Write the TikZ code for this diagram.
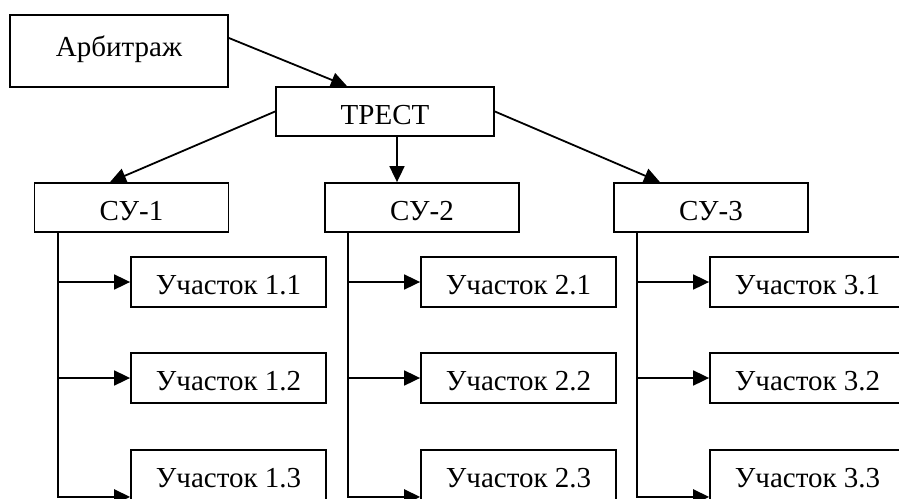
\documentclass[tikz,border=0pt]{standalone}
\usepackage{fontspec}
\setmainfont{Liberation Serif}
\usetikzlibrary{arrows.meta,calc}

\begin{document}
\begin{tikzpicture}[x=1pt,y=-1pt,
  box/.style={draw,line width=1.8pt,rectangle,inner sep=0pt,
    font=\fontsize{29}{31}\selectfont,text height=27pt,text depth=2pt,
    minimum height=49pt},
  topbox/.style={box,minimum width=194pt},
  unitbox/.style={box,minimum width=195pt,minimum height=50pt},
  link/.style={line width=1.8pt,-{Triangle[length=16pt,width=15pt]}}]
\useasboundingbox (0,0) rectangle (899,498);
\clip (0,0) rectangle (899,498);

% management levels
\node[box,minimum width=218pt,minimum height=72pt,text height=20pt,text depth=10pt] (arb) at (119,51) {Арбитраж};
\node[box,minimum width=218pt] (trest) at (385,111.5) {ТРЕСТ};
\node[topbox] (su1) at (131.5,207.5) {СУ-1};
\node[topbox] (su2) at (422,207.5) {СУ-2};
\node[topbox] (su3) at (711,207.5) {СУ-3};

% sites
\foreach \c/\x in {1/228.5,2/518.5,3/807.5}{
  \node[unitbox] (u\c1) at (\x,282) {Участок \c.1};
  \node[unitbox] (u\c2) at (\x,378) {Участок \c.2};
  \node[unitbox] (u\c3) at (\x,475) {Участок \c.3};
}

% top links
\draw[link] ([yshift=13pt]arb.east) -- ([xshift=-38pt]trest.north);
\draw[link] (trest.west) -- ([xshift=-21.5pt]su1.north);
\draw[link] ([xshift=12pt]trest.south) -- ([xshift=12pt]trest.south |- su2.north);
\draw[link] (trest.east) -- ([xshift=-51pt]su3.north);

% branches to sites
\foreach \c in {1,2,3}{
  \coordinate (s\c) at ([xshift=24pt]su\c.south west);
  \draw[link] (s\c) |- (u\c1.west);
  \draw[link] (s\c) |- (u\c2.west);
  \draw[link] (s\c) |- ([yshift=4pt]u\c3.south west);
}
\end{tikzpicture}
\end{document}
